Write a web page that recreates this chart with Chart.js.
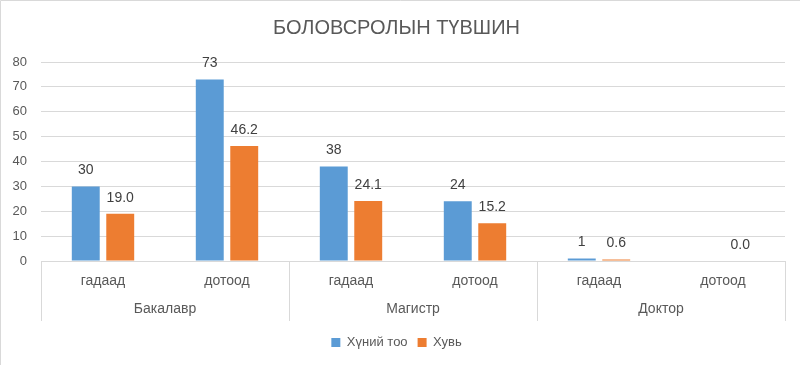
<!DOCTYPE html>
<html>
<head>
<meta charset="utf-8">
<script src="https://cdn.jsdelivr.net/npm/chart.js@4/dist/chart.umd.min.js"></script>
<style>
  html, body { margin: 0; padding: 0; background: #fff; }
  #wrap { width: 800px; height: 365px; position: relative; }
</style>
</head>
<body>
<div id="wrap"><canvas id="c" width="800" height="365"></canvas></div>
<script>
const chartTitle = 'БОЛОВСРОЛЫН ТҮВШИН';
const groups = ['Бакалавр', 'Магистр', 'Доктор'];
const subCategories = ['гадаад', 'дотоод', 'гадаад', 'дотоод', 'гадаад', 'дотоод'];
const seriesNames = ['Хүний тоо', 'Хувь'];
const peopleCount = [30, 73, 38, 24, 1, null];
const percentShare = [19.0, 46.2, 24.1, 15.2, 0.6, 0.0];
const yTicks = { min: 0, max: 80, step: 10 };

const FONT = "'Liberation Sans', Arial, sans-serif";
const TEXT = '#595959';
const GRID = '#d9d9d9';

const groupPlugin = {
  id: 'groupAxis',
  beforeDraw(chart) {
    const ctx = chart.ctx;
    ctx.save();
    ctx.strokeStyle = GRID;
    ctx.lineWidth = 1;
    ctx.beginPath();
    ctx.moveTo(0.5, 365); ctx.lineTo(0.5, 0.5); ctx.lineTo(800, 0.5);
    ctx.stroke();
    ctx.restore();
  },
  afterDraw(chart) {
    const x = chart.scales.x;
    const ctx = chart.ctx;
    const top = chart.chartArea.bottom;
    const cw = x.getPixelForValue(1) - x.getPixelForValue(0);
    ctx.save();
    ctx.strokeStyle = GRID;
    ctx.lineWidth = 1;
    for (let g = 0; g <= groups.length; g++) {
      const px = Math.round(x.getPixelForValue(g * 2) - cw / 2) + 0.5;
      ctx.beginPath();
      ctx.moveTo(px, top);
      ctx.lineTo(px, top + 60);
      ctx.stroke();
    }
    ctx.fillStyle = TEXT;
    ctx.font = '14px ' + FONT;
    ctx.textAlign = 'center';
    ctx.textBaseline = 'middle';
    groups.forEach((g, i) => {
      const cx = (x.getPixelForValue(i * 2) + x.getPixelForValue(i * 2 + 1)) / 2;
      ctx.fillText(g, cx, top + 48);
    });
    // data labels
    ctx.fillStyle = '#404040';
    chart.data.datasets.forEach((ds, di) => {
      const meta = chart.getDatasetMeta(di);
      meta.data.forEach((bar, i) => {
        const v = ds.data[i];
        if (v === null || v === undefined) return;
        const txt = di === 0 ? String(v) : v.toFixed(1);
        ctx.fillText(txt, bar.x, bar.y - 16);
      });
    });
    ctx.restore();
  }
};

new Chart(document.getElementById('c'), {
  type: 'bar',
  data: {
    labels: subCategories,
    datasets: [
      { label: seriesNames[0], data: peopleCount, backgroundColor: '#5B9BD5' },
      { label: seriesNames[1], data: percentShare, backgroundColor: '#ED7D31' }
    ]
  },
  options: {
    responsive: false,
    animation: false,
    categoryPercentage: 0.556,
    barPercentage: 0.81,
    layout: { padding: { left: 8, right: 15, top: 0, bottom: 6 } },
    scales: {
      x: {
        grid: { display: false },
        border: { display: false },
        ticks: { color: TEXT, font: { family: FONT, size: 14 }, padding: 4, maxRotation: 0 },
        afterFit(s) { s.height = 65; }
      },
      y: {
        min: yTicks.min, max: yTicks.max,
        grid: { color: GRID, drawTicks: false },
        border: { display: false },
        ticks: { stepSize: yTicks.step, color: TEXT, font: { family: FONT, size: 13 }, padding: 14 },
        afterFit(s) { s.width = 33; }
      }
    },
    plugins: {
      title: {
        display: true, text: chartTitle, color: TEXT,
        font: { family: FONT, size: 20, weight: 'normal' },
        padding: { top: 16, bottom: 22 }
      },
      legend: {
        position: 'bottom',
        labels: {
          color: TEXT, font: { family: FONT, size: 13 },
          boxWidth: 9, boxHeight: 9, padding: 10
        }
      },
      tooltip: { enabled: false }
    }
  },
  plugins: [groupPlugin]
});
</script>
</body>
</html>
